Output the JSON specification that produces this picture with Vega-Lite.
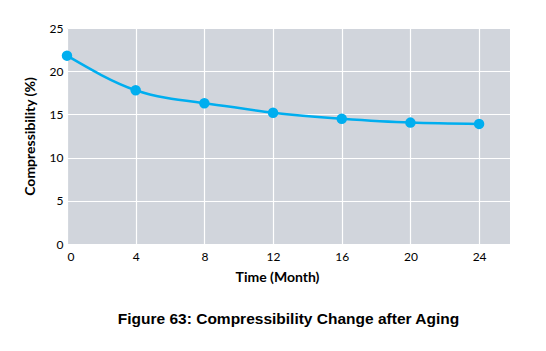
{
  "$schema": "https://vega.github.io/schema/vega-lite/v6.json",
  "width": 443,
  "height": 216,
  "autosize": "none",
  "padding": {"left": 67, "top": 28, "right": 36, "bottom": 107},
  "background": "white",
  "title": {
    "text": "Figure 63: Compressibility Change after Aging",
    "orient": "bottom",
    "anchor": "middle",
    "font": "Liberation Sans",
    "fontSize": 15.5,
    "fontWeight": "bold",
    "color": "#000000",
    "offset": 28
  },
  "config": {
    "view": {"fill": "#d1d5dc", "stroke": null},
    "axis": {
      "domain": false,
      "ticks": false,
      "grid": true,
      "gridColor": "#ffffff",
      "gridWidth": 1.2,
      "gridOpacity": 1,
      "labelFont": "Lato",
      "labelFontSize": 12,
      "labelColor": "#000000",
      "titleFont": "Lato",
      "titleFontSize": 14,
      "titleFontWeight": "bold",
      "titleColor": "#000000"
    }
  },
  "data": {
    "values": [
      {"month": 0, "comp": 21.8},
      {"month": 4, "comp": 17.8},
      {"month": 8, "comp": 16.3},
      {"month": 12, "comp": 15.2},
      {"month": 16, "comp": 14.5},
      {"month": 20, "comp": 14.05},
      {"month": 24, "comp": 13.9}
    ]
  },
  "encoding": {
    "x": {
      "field": "month",
      "type": "quantitative",
      "scale": {"domain": [0, 25.8], "nice": false},
      "axis": {"values": [0, 4, 8, 12, 16, 20, 24], "title": "Time (Month)", "labelPadding": 7, "titlePadding": 8, "titleX": 210}
    },
    "y": {
      "field": "comp",
      "type": "quantitative",
      "scale": {"domain": [0, 25], "nice": false},
      "axis": {"values": [0, 5, 10, 15, 20, 25], "title": "Compressibility (%)", "labelPadding": 4, "titlePadding": 12}
    }
  },
  "layer": [
    {"mark": {"type": "line", "interpolate": "natural", "color": "#00aeef", "strokeWidth": 2.5}},
    {"mark": {"type": "point", "filled": true, "opacity": 1, "color": "#00aeef", "size": 110}}
  ]
}
